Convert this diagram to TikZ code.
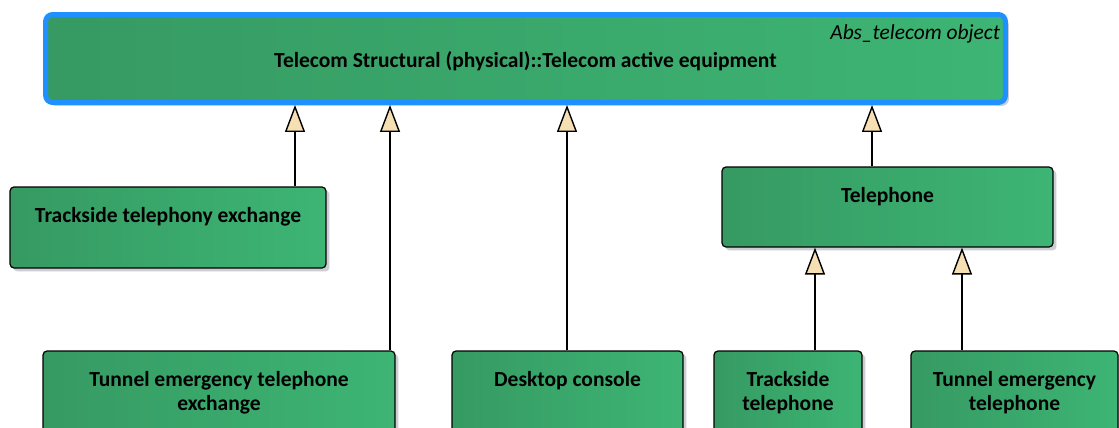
\documentclass[tikz,border=0pt]{standalone}
\usepackage{fontspec}
\setmainfont{Carlito}
\usetikzlibrary{arrows.meta, shadows}

\definecolor{eaL}{RGB}{54,154,98}
\definecolor{eaR}{RGB}{61,181,116}
\definecolor{eaBlue}{RGB}{30,144,255}
\definecolor{eaTip}{RGB}{247,223,180}
\definecolor{eaShade}{RGB}{205,205,212}

\begin{document}
\begin{tikzpicture}[
  x=0.02cm, y=-0.02cm,
  cls/.style={rectangle, draw=black, line width=0.7pt, rounded corners=0.08cm,
              left color=eaL, right color=eaR, minimum height=1.62cm,
              drop shadow={shadow xshift=0.07cm, shadow yshift=-0.07cm,
                           fill=eaShade, opacity=1}},
  abs/.style={cls, draw=eaBlue, line width=0.1cm, rounded corners=0.14cm,
              minimum height=1.76cm},
  ttl/.style={font=\ttlfont, align=center, anchor=north, inner sep=0pt,
              yshift=-0.42cm},
  stereo/.style={font=\itshape\fontsize{12.2}{14}\selectfont, anchor=north east,
                 inner sep=0pt, xshift=-0.15cm, yshift=-0.24cm},
  gen/.style={draw, line width=0.8pt,
              -{Triangle[width=0.4cm, length=0.54cm, fill=eaTip, line width=0.8pt]}}
]
  \def\ttlfont{\bfseries\fontsize{12.25}{13.6}\selectfont}
  \useasboundingbox (0,0) rectangle (1119,428);
  \clip (0,0) rectangle (1119,428);

  % abstract parent
  \node[abs, minimum width=19.2cm,
        label={[font=\ttlfont, anchor=center, yshift=-0.05cm]center:Telecom Structural (physical)::Telecom active equipment},
        label={[stereo]north east:Abs\_telecom object}]
        (top) at (525.5,58.5) {};

  % second row
  \node[cls, minimum width=6.32cm,
        label={[ttl]north:Trackside telephony exchange}] (tse) at (168,227.5) {};
  \node[cls, minimum width=6.62cm, minimum height=1.6cm,
        label={[ttl]north:Telephone}] (tel) at (887.5,207) {};

  % bottom row (cut by the frame)
  \node[cls, minimum width=7.04cm,
        label={[ttl]north:Tunnel emergency telephone\\exchange}] (tee) at (219,391.5) {};
  \node[cls, minimum width=4.62cm,
        label={[ttl]north:Desktop console}] (dc) at (567.5,391.5) {};
  \node[cls, minimum width=2.96cm,
        label={[ttl]north:Trackside\\telephone}] (tst) at (788,391.5) {};
  \node[cls, minimum width=4.14cm,
        label={[ttl]north:Tunnel emergency\\telephone}] (tet) at (1014.5,391.5) {};

  % generalisations
  \foreach \c/\p/\x in {tse/top/295, tee/top/390, dc/top/567, tel/top/872,
                        tst/tel/815, tet/tel/962}
    \draw[gen] (\c.north -| \x,0) -- (\p.south -| \x,0);
\end{tikzpicture}
\end{document}
